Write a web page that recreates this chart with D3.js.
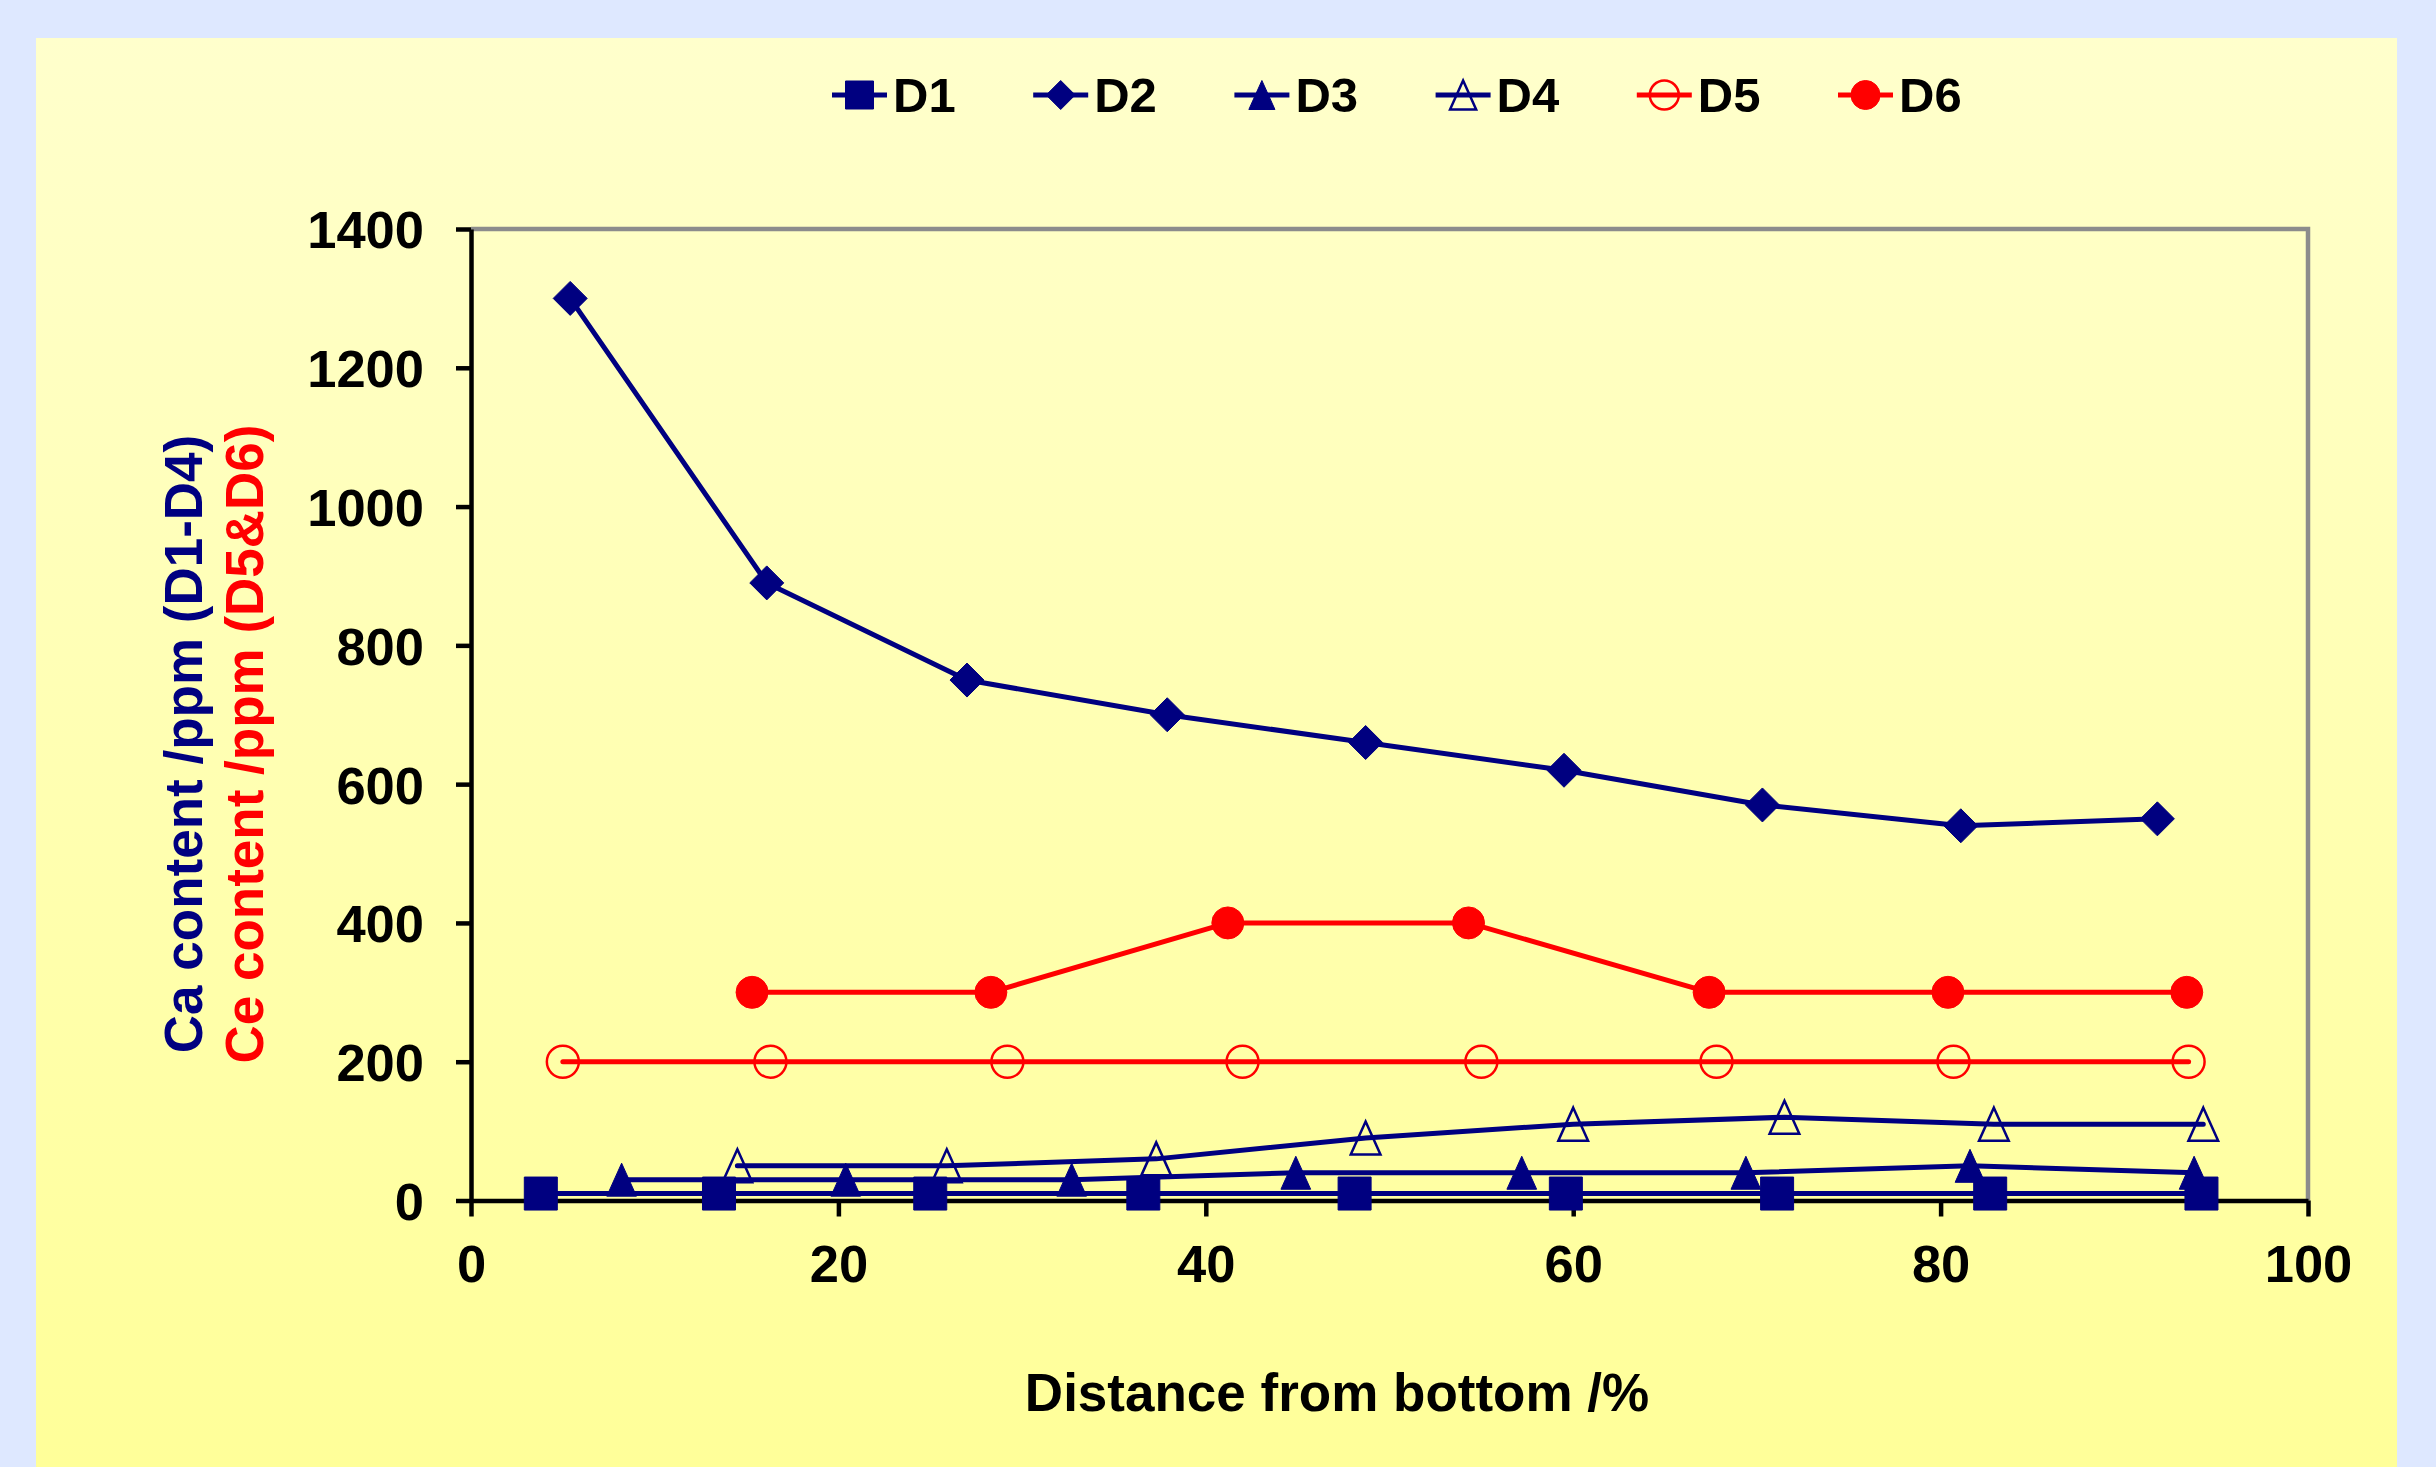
<!DOCTYPE html>
<html>
<head>
<meta charset="utf-8">
<script src="https://cdn.jsdelivr.net/npm/d3@7"></script>
<style>
  html, body { margin: 0; padding: 0; background: #DEE8FF; }
  svg { display: block; }
  text { font-family: "Liberation Sans", Arial, sans-serif; font-weight: bold; }
</style>
</head>
<body>
<svg id="chart" width="2436" height="1467"></svg>
<script>
// ---------------- data ----------------
const seriesNames = ["D1", "D2", "D3", "D4", "D5", "D6"];

const d1X = [3.8, 13.5, 25.0, 36.6, 48.1, 59.6, 71.1, 82.7, 94.2];
const d1Y = [10, 10, 10, 10, 10, 10, 10, 10, 10];

const d2X = [5.4, 16.1, 27.0, 37.9, 48.7, 59.5, 70.3, 81.1, 91.8];
const d2Y = [1300, 890, 750, 700, 660, 620, 570, 540, 550];

const d3X = [8.2, 20.4, 32.7, 44.9, 57.2, 69.4, 81.6, 93.8];
const d3Y = [30, 30, 30, 40, 40, 40, 50, 40];

const d4X = [14.5, 25.9, 37.3, 48.7, 60.0, 71.5, 82.9, 94.3];
const d4Y = [50, 50, 60, 90, 110, 120, 110, 110];

const d5X = [5.0, 16.3, 29.2, 42.0, 55.0, 67.8, 80.7, 93.5];
const d5Y = [200, 200, 200, 200, 200, 200, 200, 200];

const d6X = [15.3, 28.3, 41.2, 54.3, 67.4, 80.4, 93.4];
const d6Y = [300, 300, 400, 400, 300, 300, 300];

const xTicks = [0, 20, 40, 60, 80, 100];
const yTicks = [0, 200, 400, 600, 800, 1000, 1200, 1400];

const xTitle = "Distance from bottom /%";
const yTitleCa = "Ca content /ppm (D1-D4)";
const yTitleCe = "Ce content /ppm (D5&D6)";

// ---------------- styling ----------------
const NAVY = "#000080", RED = "#FF0000";
const styles = {
  D1: { color: NAVY, marker: "square", fill: true },
  D2: { color: NAVY, marker: "diamond", fill: true },
  D3: { color: NAVY, marker: "triangle", fill: true },
  D4: { color: NAVY, marker: "triangle", fill: false },
  D5: { color: RED, marker: "circle", fill: false },
  D6: { color: RED, marker: "circle", fill: true }
};
const seriesData = {
  D1: d1X.map((v, i) => [v, d1Y[i]]),
  D2: d2X.map((v, i) => [v, d2Y[i]]),
  D3: d3X.map((v, i) => [v, d3Y[i]]),
  D4: d4X.map((v, i) => [v, d4Y[i]]),
  D5: d5X.map((v, i) => [v, d5Y[i]]),
  D6: d6X.map((v, i) => [v, d6Y[i]])
};

function markerPath(kind, s) {
  const h = s / 2;
  if (kind === "square") return `M${-h},${-h}H${h}V${h}H${-h}Z`;
  if (kind === "diamond") return `M0,${-h}L${h},0L0,${h}L${-h},0Z`;
  if (kind === "triangle") { const w = s * 0.45; return `M0,${-h}L${w},${h}L${-w},${h}Z`; }
  if (kind === "circle") return `M${h},0A${h},${h} 0 1 1 ${-h},0A${h},${h} 0 1 1 ${h},0Z`;
  return "";
}

// ---------------- layout ----------------
const W = 2436, H = 1467;
const svg = d3.select("#chart");
const defs = svg.append("defs");
const grad = defs.append("linearGradient").attr("id", "panelGrad")
  .attr("x1", 0).attr("y1", 0).attr("x2", 0).attr("y2", 1);
grad.append("stop").attr("offset", "0%").attr("stop-color", "#FFFFCC");
grad.append("stop").attr("offset", "100%").attr("stop-color", "#FFFF99");

svg.append("rect").attr("width", W).attr("height", H).attr("fill", "#DEE8FF");
svg.append("rect").attr("x", 36).attr("y", 38).attr("width", 2361).attr("height", H - 38)
  .attr("fill", "url(#panelGrad)");

const plotL = 471, plotR = 2308, plotT = 229, plotB = 1200.5;
const x = d3.scaleLinear().domain([0, 100]).range([plotL, plotR]);
const y = d3.scaleLinear().domain([0, 1400]).range([plotB, plotT]);

// gray frame (top + right)
svg.append("path")
  .attr("d", `M${plotL},${plotT}H${plotR}V${plotB}`)
  .attr("fill", "none").attr("stroke", "#8C8C8C").attr("stroke-width", 4.5);

// axes
const fmt = d3.format("d");
const gx = svg.append("g").attr("transform", `translate(0,${plotB})`)
  .call(d3.axisBottom(x).tickValues(xTicks).tickFormat(fmt).tickSize(16).tickSizeOuter(0).tickPadding(28));
gx.select(".domain").attr("stroke", "#000").attr("stroke-width", 4.5);
gx.selectAll(".tick line").attr("stroke", "#000").attr("stroke-width", 4.5);
gx.selectAll(".tick text").attr("font-size", 52.5).attr("fill", "#000")
  .attr("font-family", "Liberation Sans, Arial, sans-serif").attr("font-weight", "bold");

const gy = svg.append("g").attr("transform", `translate(${plotL},0)`)
  .call(d3.axisLeft(y).tickValues(yTicks).tickFormat(fmt).tickSize(15).tickSizeOuter(0).tickPadding(32));
gy.select(".domain").attr("stroke", "#000").attr("stroke-width", 4.5);
gy.selectAll(".tick line").attr("stroke", "#000").attr("stroke-width", 4.5);
gy.selectAll(".tick text").attr("font-size", 52.5).attr("fill", "#000").attr("dy", "0.36em")
  .attr("font-family", "Liberation Sans, Arial, sans-serif").attr("font-weight", "bold");

// series
const line = d3.line().x(d => x(d[0])).y(d => y(d[1]));
const markerSize = { square: 33, diamond: 34, triangle: 33, circle: 32 };

seriesNames.forEach(name => {
  const st = styles[name];
  const data = seriesData[name];
  const g = svg.append("g").attr("class", "series-" + name);
  g.append("path").datum(data).attr("d", line)
    .attr("fill", "none").attr("stroke", st.color).attr("stroke-width", 5)
    .attr("stroke-linejoin", "round").attr("stroke-linecap", "round");
  g.selectAll("path.mk").data(data).join("path").attr("class", "mk")
    .attr("transform", d => `translate(${x(d[0])},${y(d[1])})`)
    .attr("d", markerPath(st.marker, markerSize[st.marker]))
    .attr("fill", st.fill ? st.color : "none")
    .attr("stroke", st.color)
    .attr("stroke-width", st.fill ? 1 : 2.5);
});

// legend
const legendX0 = 832, legendStep = 201.2, legendY = 95;
const lg = svg.append("g").selectAll("g").data(seriesNames).join("g")
  .attr("transform", (d, i) => `translate(${legendX0 + i * legendStep},${legendY})`);
lg.append("line").attr("x1", 0).attr("x2", 55).attr("y1", 0).attr("y2", 0)
  .attr("stroke", d => styles[d].color).attr("stroke-width", 5);
lg.append("path")
  .attr("transform", "translate(27.5,0)")
  .attr("d", d => markerPath(styles[d].marker, styles[d].marker === "square" ? 28 : 29))
  .attr("fill", d => styles[d].fill ? styles[d].color : "none")
  .attr("stroke", d => styles[d].color)
  .attr("stroke-width", d => styles[d].fill ? 1 : 2.5);
lg.append("text").attr("x", 61).attr("y", 17).attr("font-size", 49).attr("fill", "#000")
  .text(d => d);

// axis titles
svg.append("text").attr("x", 1337).attr("y", 1411)
  .attr("text-anchor", "middle").attr("font-size", 53).attr("fill", "#000").text(xTitle);

svg.append("text").attr("transform", "translate(202,744) rotate(-90)")
  .attr("text-anchor", "middle").attr("font-size", 53).attr("fill", NAVY).text(yTitleCa);
svg.append("text").attr("transform", "translate(263,744) rotate(-90)")
  .attr("text-anchor", "middle").attr("font-size", 53).attr("fill", RED).text(yTitleCe);
</script>
</body>
</html>
